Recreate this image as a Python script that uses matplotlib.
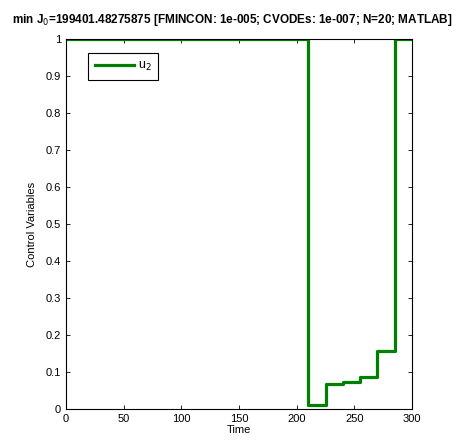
import matplotlib
matplotlib.use("Agg")
import matplotlib.pyplot as plt

plt.rcParams['font.family'] = ['Liberation Sans', 'DejaVu Sans']

# step start times and values (N=20 intervals)
time = [0, 15, 30, 45, 60, 75, 90, 105, 120, 135, 150, 165, 180, 195,
        210, 225, 240, 255, 270, 285, 300]
u2 = [1, 1, 1, 1, 1, 1, 1, 1, 1, 1, 1, 1, 1, 1,
      0.012, 0.068, 0.073, 0.086, 0.156, 1, 1]
xticks = [0, 50, 100, 150, 200, 250, 300]
yticks = [0, 0.1, 0.2, 0.3, 0.4, 0.5, 0.6, 0.7, 0.8, 0.9, 1]
yticklabels = ['0', '0.1', '0.2', '0.3', '0.4', '0.5', '0.6', '0.7', '0.8', '0.9', '1']
title = r'min J$_0$=199401.48275875 [FMINCON: 1e-005; CVODEs: 1e-007; N=20; MATLAB]'

fig = plt.figure(figsize=(4.63, 4.41), dpi=100)
ax = fig.add_axes([66/463, 1-409/441, (412-66)/463, (409-39)/441])
ax.plot(time, u2, drawstyle='steps-post', color=(0, 0.5, 0), lw=2.3,
        label=r'u$_2$', zorder=2)
ax.set_xlim(0, 300)
ax.set_ylim(0, 1)
ax.set_xticks(xticks)
ax.set_xticklabels([str(t) for t in xticks])
ax.set_yticks(yticks)
ax.set_yticklabels(yticklabels)
ax.tick_params(direction='in', top=True, right=True, labelsize=8, length=3, width=0.6)
for s in ax.spines.values():
    s.set_linewidth(0.8)
    s.set_zorder(3)
ax.set_xlabel('Time', fontsize=8, labelpad=1)
ax.set_ylabel('Control Variables', fontsize=8, labelpad=6)
fig.text(232/463, 1-20/441, title, fontsize=8.5, fontweight='bold',
         ha='center', va='center')
leg = ax.legend(loc='upper left', bbox_to_anchor=(0.064, 0.962), fontsize=9,
                fancybox=False, framealpha=1, edgecolor='black',
                handlelength=3.1, borderpad=0.55, handletextpad=0.3,
                borderaxespad=0)
leg.get_frame().set_linewidth(0.8)
fig.savefig('out.png', dpi=100)
